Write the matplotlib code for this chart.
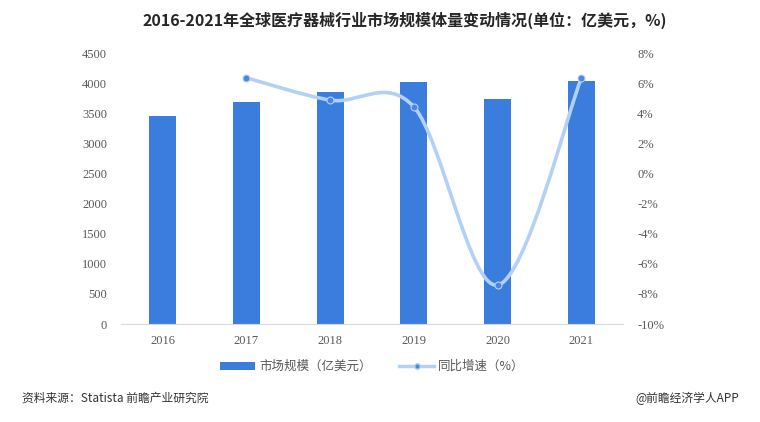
import numpy as np
import matplotlib
matplotlib.use("Agg")
import matplotlib.pyplot as plt
from matplotlib.path import Path
from matplotlib.patches import PathPatch
from matplotlib.lines import Line2D
from matplotlib.patches import Patch

plt.rcParams['font.family'] = ['Noto Sans CJK SC', 'DejaVu Sans']

years = ['2016', '2017', '2018', '2019', '2020', '2021']
market_size = [3459, 3685, 3850, 4025, 3732, 4040]
growth_years = ['2017', '2018', '2019', '2020', '2021']
growth = [6.36, 4.88, 4.43, -7.41, 6.34]
left_ticks = [0, 500, 1000, 1500, 2000, 2500, 3000, 3500, 4000, 4500]
right_ticks = [-10, -8, -6, -4, -2, 0, 2, 4, 6, 8]

title = '2016-2021年全球医疗器械行业市场规模体量变动情况(单位：亿美元，%)'
legend_bar = '市场规模（亿美元）'
legend_line = '同比增速（%）'
source = '资料来源：Statista 前瞻产业研究院'
credit = '@前瞻经济学人APP'

bar_color = '#3B7DDD'
line_color = '#B3D1F7'
marker_color = '#4A86E8'
tick_color = '#595959'

fig = plt.figure(figsize=(7.6, 4.22), dpi=100)
ax = fig.add_axes([0.159, 0.232, 0.661, 0.642])
x = np.arange(len(years))
ax.bar(x, market_size, width=0.32, color=bar_color, zorder=2)
ax.set_xlim(-0.5, len(years) - 0.5)
ax.set_ylim(0, 4500)
ax.set_yticks(left_ticks)
ax.set_yticklabels([str(v) for v in left_ticks], family='Liberation Serif', fontsize=9, color=tick_color)
ax.set_xticks(x)
ax.set_xticklabels(years, family='Liberation Serif', fontsize=9, color=tick_color)
for s in ['top', 'right', 'left']:
    ax.spines[s].set_visible(False)
ax.spines['bottom'].set_color('#D9D9D9')
ax.tick_params(axis='both', length=0)
ax.tick_params(axis='y', pad=10)
ax.tick_params(axis='x', pad=8)

ax2 = ax.twinx()
ax2.set_ylim(-10, 8)
ax2.set_yticks(right_ticks)
ax2.set_yticklabels([f'{v}%' for v in right_ticks], family='Liberation Serif', fontsize=9, color=tick_color)
for s in ['top', 'right', 'left', 'bottom']:
    ax2.spines[s].set_visible(False)
ax2.tick_params(axis='y', length=0, pad=10)

# smoothed line (Catmull-Rom style Bezier) through the growth points
gx = np.array([years.index(y) for y in growth_years], dtype=float)
gy = np.array(growth, dtype=float)
P = np.column_stack([gx, gy])
verts = [tuple(P[0])]
codes = [Path.MOVETO]
n = len(P)
for i in range(n - 1):
    p0 = P[i - 1] if i > 0 else P[i]
    p1 = P[i]
    p2 = P[i + 1]
    p3 = P[i + 2] if i + 2 < n else P[i + 1]
    c1 = p1 + (p2 - p0) / 6.0
    c2 = p2 - (p3 - p1) / 6.0
    verts += [tuple(c1), tuple(c2), tuple(p2)]
    codes += [Path.CURVE4] * 3
path = Path(verts, codes)
ax2.add_patch(PathPatch(path, facecolor='none', edgecolor=line_color, lw=2.6, zorder=3, capstyle='round'))
ax2.plot(gx, gy, linestyle='none', marker='o', ms=5, mfc=marker_color, mec=line_color, mew=0.8, zorder=4)

fig.text(0.532, 0.952, title, ha='center', va='center', fontsize=11.5, fontweight='bold', color='#262626')

handles = [Patch(facecolor=bar_color, edgecolor='none'),
           Line2D([0], [0], color=line_color, lw=2.5, marker='o', ms=4, mfc=marker_color, mec=line_color)]
leg = fig.legend(handles, [legend_bar, legend_line], loc='center', bbox_to_anchor=(0.49, 0.131),
                 ncol=2, frameon=False, fontsize=9, handlelength=2.8, handleheight=0.6,
                 columnspacing=2.2, handletextpad=0.3)
for t in leg.get_texts():
    t.set_color(tick_color)

fig.text(0.029, 0.057, source, ha='left', va='center', fontsize=8.5, color='#333333')
fig.text(0.972, 0.057, credit, ha='right', va='center', fontsize=8.5, color='#333333')

fig.savefig('out.png', dpi=100)
